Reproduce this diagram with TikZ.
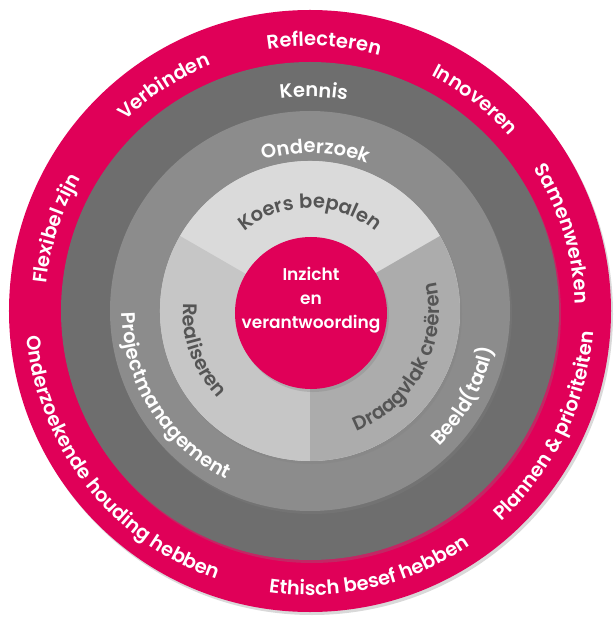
\documentclass[tikz,border=0pt]{standalone}
\usepackage{fontspec}
\setmainfont{Poppins}[BoldFont={Poppins SemiBold}]
\usetikzlibrary{decorations.text,shadows}

\definecolor{ringred}{RGB}{224,0,88}
\definecolor{kennisgray}{RGB}{110,110,110}
\definecolor{onderzoekgray}{RGB}{140,140,140}
\definecolor{koersgray}{RGB}{218,218,218}
\definecolor{realgray}{RGB}{198,198,198}
\definecolor{draaggray}{RGB}{172,172,172}
\definecolor{labelgray}{RGB}{85,85,85}

\newcommand{\ringfont}{\fontsize{19.5}{19.5}\bfseries}

\tikzset{
  ring/.style={drop shadow={opacity=0.3, shadow xshift=2pt, shadow yshift=-3pt}},
  whitelabel/.style={decorate, decoration={text along path, text align=center,
      text color=white, text={|\ringfont|#1}}},
  graylabel/.style={decorate, decoration={text along path, text align=center,
      text color=labelgray, text={|\ringfont|#1}}},
}

\begin{document}
\begin{tikzpicture}[x=1pt, y=1pt]
		\useasboundingbox (-310,-307) rectangle (305,311);

		% outer ring
		\fill[ringred, ring] (0,0) circle[radius=301pt];
		\path[whitelabel={Reflecteren}] (147:265pt) arc[start angle=147, end angle=27, radius=265pt];
		\path[whitelabel={Verbinden}] (183:265pt) arc[start angle=183, end angle=63, radius=265pt];
		\path[whitelabel={Innoveren}] (112:265pt) arc[start angle=112, end angle=-8, radius=265pt];
		\path[whitelabel={Samenwerken}] (77:265pt) arc[start angle=77, end angle=-43, radius=265pt];
		\path[whitelabel={Flexibel zijn}] (222:265pt) arc[start angle=222, end angle=102, radius=265pt];
		\path[whitelabel={Onderzoekende houding hebben}] (158:284pt) arc[start angle=158, end angle=278, radius=284pt];
		\path[whitelabel={Ethisch besef hebben}] (223:284pt) arc[start angle=223, end angle=343, radius=284pt];
		\path[whitelabel={Plannen {\&} prioriteiten}] (274:284pt) arc[start angle=274, end angle=394, radius=284pt];

		% kennis
		\fill[kennisgray, ring] (0,0) circle[radius=249pt];
		\path[whitelabel={Kennis}] (149:214pt) arc[start angle=149, end angle=29, radius=214pt];

		% onderzoek
		\fill[onderzoekgray, ring] (0,0) circle[radius=200pt];
		\path[whitelabel={Onderzoek}] (148:158pt) arc[start angle=148, end angle=28, radius=158pt];
		\path[whitelabel={Projectmanagement}] (152:188pt) arc[start angle=152, end angle=272, radius=188pt];
		\path[whitelabel={Beeld(taal)}] (271:187pt) arc[start angle=271, end angle=391, radius=187pt];

		% three sectors
		\fill[koersgray, ring] (0,0) circle[radius=150pt];
		\fill[koersgray] (0,0) -- (30:150pt) arc[start angle=30, end angle=150, radius=150pt] -- cycle;
		\fill[realgray] (0,0) -- (150:150pt) arc[start angle=150, end angle=270, radius=150pt] -- cycle;
		\fill[draaggray] (0,0) -- (270:150pt) arc[start angle=270, end angle=390, radius=150pt] -- cycle;
		\path[graylabel={Koers bepalen}] (150:103pt) arc[start angle=150, end angle=30, radius=103pt];
		\path[graylabel={Realiseren}] (140:127pt) arc[start angle=140, end angle=260, radius=127pt];
		\path[graylabel={Draagvlak creëren}] (272:129pt) arc[start angle=272, end angle=392, radius=129pt];

		% centre
		\fill[ringred, ring] (1,-2) circle[radius=76pt];
		\node[text=white, align=center, font=\fontsize{17}{24}\bfseries] (inzicht) at (1,11) {Inzicht\\en\\verantwoording};

\end{tikzpicture}
\end{document}
